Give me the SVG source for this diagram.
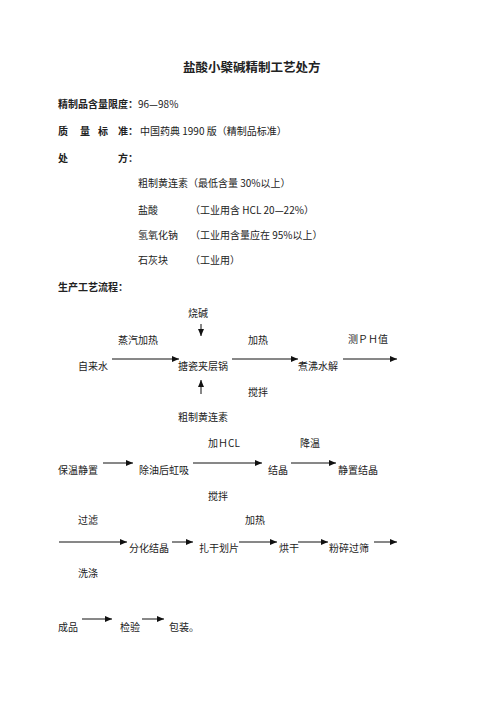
<svg xmlns="http://www.w3.org/2000/svg" width="496" height="702" viewBox="0 0 496 702">
<defs>
<marker id="ah" markerWidth="7" markerHeight="6" refX="7" refY="3" orient="auto" markerUnits="userSpaceOnUse">
<path d="M0,0 L7,3 L0,6 Z" fill="#111"/>
</marker>
<style>
text{font-family:"Noto Sans CJK SC","Noto Sans",sans-serif;font-size:10px;fill:#222}
.b{font-weight:bold}
.t{font-size:12.5px;font-weight:bold}
.c line{stroke:#111;stroke-width:1;marker-end:url(#ah)}
</style>
</defs>
<rect width="496" height="702" fill="#fff"/>
<g id="header">
<text class="t" x="183" y="72">盐酸小檗碱精制工艺处方</text>
<text x="58" y="108"><tspan class="b">精制品含量限度：</tspan>96—98%</text>
<text x="58" y="135" class="b">质</text>
<text x="80" y="135" class="b">量</text>
<text x="98" y="135" class="b">标</text>
<text x="118" y="135" class="b">准：</text>
<text x="140" y="135">中国药典 1990 版（精制品标准）</text>
<text x="58" y="162" class="b">处</text>
<text x="118" y="162" class="b">方：</text>
<text x="138" y="187">粗制黄连素（最低含量 30%以上）</text>
<text x="138" y="214">盐酸</text>
<text x="190" y="214">（工业用含 HCL 20—22%）</text>
<text x="138" y="239">氢氧化钠</text>
<text x="190" y="239">（工业用含量应在 95%以上）</text>
<text x="138" y="264">石灰块</text>
<text x="190" y="264">（工业用）</text>
<text x="58" y="291" class="b">生产工艺流程：</text>
</g>
<g id="labels">
<text x="188" y="317">烧碱</text>
<text x="118" y="344">蒸汽加热</text>
<text x="248" y="344">加热</text>
<text x="348" y="343">测ＰＨ值</text>
<text x="248" y="396">搅拌</text>
<text x="208" y="447">加ＨCL</text>
<text x="300" y="447">降温</text>
<text x="208" y="500">搅拌</text>
<text x="78" y="524">过滤</text>
<text x="245" y="524">加热</text>
<text x="78" y="577">洗涤</text>
</g>
<g id="n-water"><text x="78" y="370">自来水</text></g>
<g id="n-pot"><text x="178" y="370">搪瓷夹层锅</text></g>
<g id="n-boil"><text x="298" y="370">煮沸水解</text></g>
<g id="n-crude"><text x="178" y="421">粗制黄连素</text></g>
<g id="n-keep"><text x="58" y="474">保温静置</text></g>
<g id="n-siphon"><text x="139" y="474">除油后虹吸</text></g>
<g id="n-cryst"><text x="268" y="474">结晶</text></g>
<g id="n-still"><text x="338" y="474">静置结晶</text></g>
<g id="n-diff"><text x="129" y="552">分化结晶</text></g>
<g id="n-slice"><text x="199" y="552">扎干划片</text></g>
<g id="n-dry"><text x="279" y="552">烘干</text></g>
<g id="n-sieve"><text x="329" y="552">粉碎过筛</text></g>
<g id="n-prod"><text x="58" y="631">成品</text></g>
<g id="n-test"><text x="120" y="631">检验</text></g>
<g id="n-pack"><text x="169" y="631">包装。</text></g>
<g id="connectors" class="c">
<line x1="201" y1="324" x2="201" y2="336"/>
<line x1="201" y1="394" x2="201" y2="380"/>
<line x1="112" y1="359" x2="179" y2="359"/>
<line x1="232" y1="359" x2="298" y2="359"/>
<line x1="343" y1="359" x2="397" y2="359"/>
<line x1="103" y1="463" x2="133" y2="463"/>
<line x1="193" y1="463" x2="262" y2="463"/>
<line x1="291" y1="463" x2="336" y2="463"/>
<line x1="59" y1="542" x2="127" y2="542"/>
<line x1="172" y1="542" x2="193" y2="542"/>
<line x1="239" y1="542" x2="277" y2="542"/>
<line x1="298" y1="542" x2="328" y2="542"/>
<line x1="374" y1="542" x2="397" y2="542"/>
<line x1="82" y1="619" x2="112" y2="619"/>
<line x1="142" y1="619" x2="164" y2="619"/>
</g>
</svg>
